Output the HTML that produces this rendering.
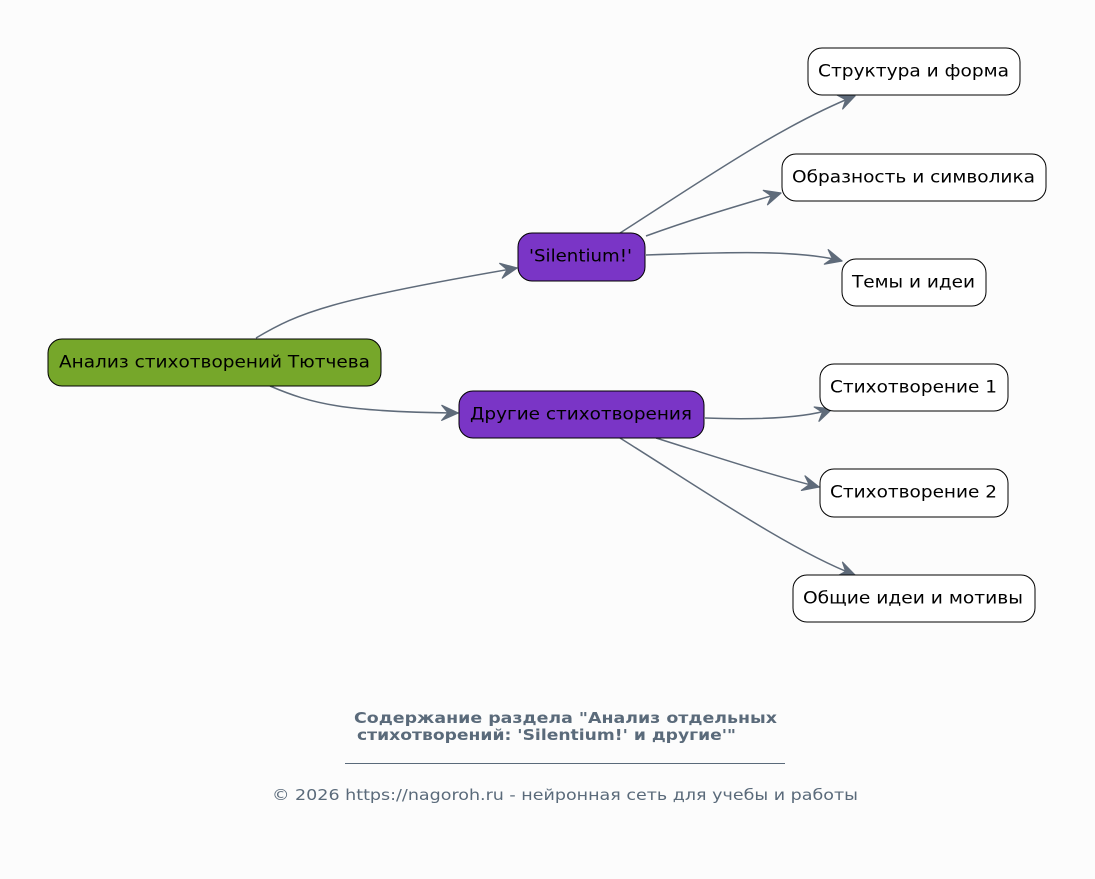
<!DOCTYPE html>
<html><head><meta charset="utf-8"><style>
html,body{margin:0;padding:0;background:#fcfcfc;}
svg{display:block;}
text{font-family:"DejaVu Sans","Liberation Sans",sans-serif;}
</style></head><body>
<svg width="1095" height="879" viewBox="0 0 1095 879" xmlns="http://www.w3.org/2000/svg">
<defs>
<marker id="ar" markerUnits="userSpaceOnUse" markerWidth="20" markerHeight="20" refX="0" refY="0" viewBox="-14 -8 16 16" orient="auto">
<path d="M0,0 L-13,-6 L-8,0 L-13,6 Z" fill="#5f6b7a" stroke="#5f6b7a" stroke-width="1" stroke-linejoin="round"/>
</marker>
</defs>
<rect width="1095" height="879" fill="#fcfcfc"/>
<g fill="none" stroke="#5f6b7a" stroke-width="1.5" marker-end="url(#ar)">
<path d="M256,338 C300,312 330,300 517,268"/>
<path d="M270,386 C312,404 345,412 458,413"/>
<path d="M620,233 C700,182 780,126 855,96"/>
<path d="M646,236 C690,220 730,208 781,193"/>
<path d="M646,255 C730,252 800,250 842,261"/>
<path d="M705,418 C760,420 805,418 832,409"/>
<path d="M656,438 C710,455 770,475 819,487"/>
<path d="M620,438 C700,488 790,550 855,575"/>
</g>
<g stroke="#000" stroke-width="1">
<rect x="48" y="339" width="333" height="47" rx="14" fill="#76a72a"/>
<rect x="518" y="233" width="127" height="48" rx="14" fill="#7a35c6"/>
<rect x="459" y="391" width="245" height="47" rx="14" fill="#7a35c6"/>
<rect x="808" y="48" width="212" height="47" rx="14" fill="#fff"/>
<rect x="782" y="154" width="264" height="47" rx="14" fill="#fff"/>
<rect x="842" y="259" width="144" height="47" rx="14" fill="#fff"/>
<rect x="820" y="364" width="188" height="47" rx="14" fill="#fff"/>
<rect x="820" y="469" width="188" height="48" rx="14" fill="#fff"/>
<rect x="793" y="575" width="242" height="47" rx="14" fill="#fff"/>
</g>
<g font-size="17" fill="#000">
<text x="59" y="367.5" textLength="311" lengthAdjust="spacingAndGlyphs">Анализ стихотворений Тютчева</text>
<text x="529" y="261.5" textLength="103" lengthAdjust="spacingAndGlyphs">'Silentium!'</text>
<text x="470" y="419.5" textLength="222" lengthAdjust="spacingAndGlyphs">Другие стихотворения</text>
<text x="818" y="76.5" textLength="191" lengthAdjust="spacingAndGlyphs">Структура и форма</text>
<text x="792" y="182.5" textLength="243" lengthAdjust="spacingAndGlyphs">Образность и символика</text>
<text x="852" y="287.5" textLength="123" lengthAdjust="spacingAndGlyphs">Темы и идеи</text>
<text x="830" y="392.5" textLength="167" lengthAdjust="spacingAndGlyphs">Стихотворение 1</text>
<text x="830" y="497.5" textLength="167" lengthAdjust="spacingAndGlyphs">Стихотворение 2</text>
<text x="803" y="603.5" textLength="220" lengthAdjust="spacingAndGlyphs">Общие идеи и мотивы</text>
</g>
<g fill="#5a6a7a">
<text x="354" y="723" font-size="15.5" font-weight="bold" textLength="423" lengthAdjust="spacingAndGlyphs">Содержание раздела "Анализ отдельных</text>
<text x="357" y="740" font-size="15.5" font-weight="bold" textLength="379" lengthAdjust="spacingAndGlyphs">стихотворений: 'Silentium!' и другие'"</text>
<line x1="345" y1="763.5" x2="785" y2="763.5" stroke="#5a6a7a" stroke-width="1"/>
<text x="272" y="800" font-size="15.5" textLength="586" lengthAdjust="spacingAndGlyphs">© 2026 https://nagoroh.ru - нейронная сеть для учебы и работы</text>
</g>
</svg>
</body></html>
